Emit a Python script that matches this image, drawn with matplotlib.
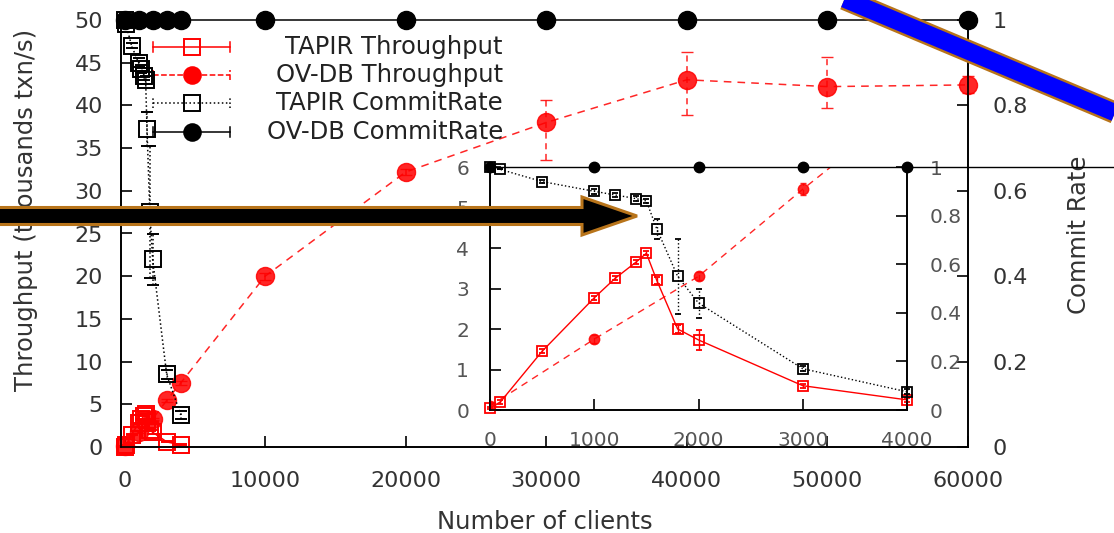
import matplotlib.pyplot as plt
from matplotlib.lines import Line2D
from matplotlib.patches import Polygon

# ---- data ----
ov_x = [0, 1000, 2000, 3000, 4000, 10000, 20000, 30000, 40000, 50000, 60000]
ov_tput = [0.1, 1.75, 3.3, 5.45, 7.5, 20.0, 32.2, 38.0, 43.0, 42.2, 42.4]
ov_tput_lo = [0.05, 0.1, 0.1, 0.15, 0.2, 0.4, 0.4, 4.4, 4.1, 2.5, 1.0]
ov_tput_hi = [0.05, 0.1, 0.1, 0.15, 0.2, 0.4, 0.4, 2.6, 3.3, 3.5, 1.0]
ov_commit = [1, 1, 1, 1, 1, 1, 1, 1, 1, 1, 1]

tapir_x = [0, 100, 500, 1000, 1200, 1400, 1500, 1600, 1800, 2000, 3000, 4000]
tapir_tput = [0.05, 0.2, 1.45, 2.77, 3.25, 3.65, 3.87, 3.2, 2.0, 1.73, 0.6, 0.25]
tapir_tput_err = [0.02, 0.05, 0.05, 0.05, 0.05, 0.05, 0.05, 0.08, 0.1, 0.25, 0.05, 0.05]
tapir_commit = [1.0, 0.99, 0.94, 0.90, 0.885, 0.87, 0.86, 0.745, 0.55, 0.44, 0.17, 0.075]
tapir_commit_err = [0, 0, 0.005, 0.01, 0.01, 0.01, 0.01, 0.04, 0.155, 0.06, 0.01, 0.01]

main_xticks = [0, 10000, 20000, 30000, 40000, 50000, 60000]
main_yticks = [0, 5, 10, 15, 20, 25, 30, 35, 40, 45, 50]
rate_ticks = [0, 0.2, 0.4, 0.6, 0.8, 1]
rate_labels = ["0", "0.2", "0.4", "0.6", "0.8", "1"]
inset_xticks = [0, 1000, 2000, 3000, 4000]
inset_yticks = [0, 1, 2, 3, 4, 5, 6]

legend_labels = ["TAPIR Throughput", "OV-DB Throughput",
                 "TAPIR CommitRate", "OV-DB CommitRate"]

W, H = 1114, 533
fig = plt.figure(figsize=(W / 100, H / 100), dpi=100)
plt.rcParams['font.family'] = ['DejaVu Sans']


def box(l, t, r, b):
    return [l / W, 1 - b / H, (r - l) / W, (b - t) / H]


def px(x, y):
    return (x / W, 1 - y / H)


RED = '#ff0000'


def draw(axl, axr, ms_c, ms_s, lw, cap, inset):
    e1 = axl.errorbar(tapir_x, tapir_tput, yerr=tapir_tput_err, color=RED,
                      marker='s', mfc='none', mew=lw + 0.3, ms=ms_s, lw=lw,
                      capsize=cap, elinewidth=lw, zorder=3)
    e2 = axl.errorbar(ov_x, ov_tput, yerr=[ov_tput_lo, ov_tput_hi], color=RED,
                      marker='o', ms=ms_c, lw=lw, dashes=(5, 4), alpha=0.85,
                      capsize=cap, elinewidth=lw, zorder=3)
    e2[2][0].set_linestyle((0, (4, 3)))
    e3 = axr.errorbar(tapir_x, tapir_commit, yerr=tapir_commit_err, color='black',
                      marker='s', mfc='none', mew=lw + 0.3, ms=ms_s, lw=lw,
                      ls=':', capsize=cap, elinewidth=lw, zorder=4)
    e3[2][0].set_linestyle(':')
    l4, = axr.plot(ov_x, ov_commit, color='black', marker='o', ms=ms_c, lw=lw,
                   zorder=4)
    for c in (e1, e3):
        for a in c.get_children():
            a.set_clip_on(False)
    l4.set_clip_on(False)
    if not inset:
        for a in e2.get_children():
            a.set_clip_on(False)


# ---- main axes ----
ax = fig.add_axes(box(121, 20, 968, 447))
axr = ax.twinx()
draw(ax, axr, 13, 12, 1.1, 4, False)

ax.set_xlim(-250, 60000)
ax.set_ylim(0, 50)
axr.set_ylim(0, 1)
ax.set_xticks(main_xticks)
ax.set_yticks(main_yticks)
axr.set_yticks(rate_ticks)
axr.set_yticklabels(rate_labels)
for a in (ax, axr):
    a.spines['top'].set_visible(False)
    for s in a.spines.values():
        s.set_linewidth(1.2)
ax.tick_params(direction='in', length=8, width=1.2, labelsize=16,
               labelcolor='#333333')
ax.tick_params(axis='y', pad=13)
ax.tick_params(axis='x', pad=17)
axr.tick_params(direction='in', length=8, width=1.2, labelsize=16,
                labelcolor='#333333', pad=18)

ax.set_xlabel('Number of clients', fontsize=17.5, color='#333333')
ax.xaxis.set_label_coords(0.5, -0.148)
ax.set_ylabel('Throughput (thousands txn/s)', fontsize=17.5, color='#333333')
ax.yaxis.set_label_coords(-0.098, 0.555)
axr.set_ylabel('Commit Rate', fontsize=17.5, color='#333333')
axr.yaxis.set_label_coords(1.117, 0.496)

# gnuplot-style key: samples on the left, labels right-aligned
lx0, lx1, lxm, ltx = 0.0378, 0.1287, 0.0838, 0.451
rows = [0.9368, 0.8712, 0.8056, 0.7377]
capd = 0.0117
styles = [
    dict(color=RED, ls='-', marker='s', mfc='none', ms=12),
    dict(color=RED, ls='--', marker='o', ms=12),
    dict(color='black', ls=':', marker='s', mfc='none', ms=12),
    dict(color='black', ls='-', marker='o', ms=12),
]
for yy, lab, st in zip(rows, legend_labels, styles):
    ls = st.pop('ls')
    mk = st.pop('marker')
    ax.add_line(Line2D([lx0, lx1], [yy, yy], transform=ax.transAxes,
                       color=st['color'], ls=ls, lw=1.1, clip_on=False, zorder=5))
    for cx in (lx0, lx1):
        ax.add_line(Line2D([cx, cx], [yy - capd, yy + capd], transform=ax.transAxes,
                           color=st['color'], ls=ls, lw=1.1, clip_on=False, zorder=5))
    ax.add_line(Line2D([lxm], [yy], transform=ax.transAxes, marker=mk, mew=1.4,
                       ls='none', clip_on=False, zorder=5, **st))
    ax.text(ltx, yy, lab, transform=ax.transAxes, ha='right', va='center',
            fontsize=17.5, color='#222222', zorder=5)

# ---- inset ----
ins = fig.add_axes(box(490, 167, 907, 410))
ins.set_facecolor('white')
insr = ins.twinx()
draw(ins, insr, 7.5, 6.5, 1.0, 2.5, True)
ins.set_xlim(0, 4000)
ins.set_ylim(0, 6)
insr.set_ylim(0, 1)
ins.set_xticks(inset_xticks)
ins.set_yticks(inset_yticks)
insr.set_yticks(rate_ticks)
insr.set_yticklabels(rate_labels)
for a in (ins, insr):
    a.spines['top'].set_visible(False)
    for s in a.spines.values():
        s.set_linewidth(1.2)
ins.tick_params(direction='in', length=8, width=1.2, labelsize=14.5,
                labelcolor='#555555')
ins.tick_params(axis='y', pad=15)
ins.tick_params(axis='x', pad=15)
insr.tick_params(direction='in', length=8, width=1.2, labelsize=14.5,
                 labelcolor='#555555', pad=16.5)

# ---- overlaid annotations: black arrow and blue stroke ----
arrow_pts = [px(-5, 207.5), px(582, 207.5), px(582, 197), px(637, 216),
             px(582, 235), px(582, 224.5), px(-5, 224.5)]
fig.add_artist(Polygon(arrow_pts, closed=True, transform=fig.transFigure,
                       facecolor='black', edgecolor='#b8741a', lw=2.2,
                       joinstyle='miter', zorder=10))
bx = [835 / W, 1125 / W]
by = [1 + 5 / H, 1 - 117 / H]
fig.add_artist(Line2D(bx, by, transform=fig.transFigure, color='#b8741a',
                      lw=16, solid_capstyle='butt', zorder=10))
fig.add_artist(Line2D(bx, by, transform=fig.transFigure, color='#0000ff',
                      lw=12.5, solid_capstyle='butt', zorder=11))

fig.savefig('out.png', dpi=100)
